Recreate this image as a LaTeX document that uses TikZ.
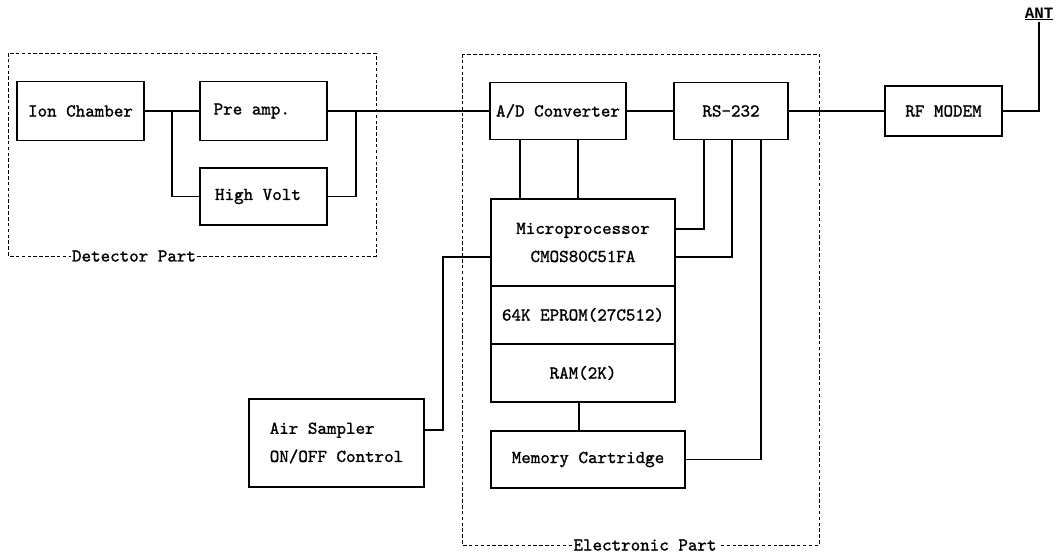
\documentclass[tikz,border=0pt]{standalone}
\usepackage{fontspec}
\newfontfamily\typefont{lmmono10-regular.otf}[FakeBold=1.2]
\newfontfamily\antfont{Liberation Mono}
\usepackage{tikz}
\usetikzlibrary{positioning, calc}
\tikzstyle{wire} = [line width=1.2pt]

\begin{document}
\begin{tikzpicture}[
    x=0.03cm, y=-0.03cm,
    box/.style={draw, rectangle, line width=1.4pt, outer sep=0pt, align=center, font=\typefont\fontsize{15.5}{24}\selectfont},
    part/.style={draw, densely dashed, line width=0.4pt},
    partlabel/.style={fill=white, inner sep=1pt, font=\typefont\fontsize{15.5}{16}\selectfont}
]
\useasboundingbox (0,0) rectangle (1063,557);

% detector part
\draw[part] (8,53) rectangle (376,256);
\node[partlabel] (detlabel) at (134,256) {Detector Part};
\node[box, minimum width=3.81cm, minimum height=1.77cm] (ion) at (80.5,111) {Ion Chamber};
\node[box, minimum width=3.81cm, minimum height=1.77cm] (preamp) at (263.5,111) {Pre amp.\hspace*{0.7cm}};
\node[box, minimum width=3.81cm, minimum height=1.71cm] (hv) at (263.5,196.5) {High Volt\hspace*{0.33cm}};

% electronic part
\draw[part] (462,54) rectangle (819,545);
\node[partlabel] (eleclabel) at (645,545) {Electronic Part};
\node[box, minimum width=4.08cm, minimum height=1.71cm] (adc) at (558,111) {A/D Converter};
\node[box, minimum width=3.42cm, minimum height=1.71cm] (rs) at (731,111) {RS-232};
\node[box, minimum width=5.52cm, minimum height=2.61cm] (micro) at (583,242.5) {Microprocessor\\CMOS80C51FA};
\node[box, minimum width=5.52cm, minimum height=1.74cm, below=0pt of micro] (eprom) {64K EPROM(27C512)};
\node[box, minimum width=5.52cm, minimum height=1.74cm, below=0pt of eprom] (ram) {RAM(2K)};
\node[box, minimum width=5.82cm, minimum height=1.71cm] (mem) at (588,459.5) {Memory Cartridge};

% outside
\node[box, minimum width=5.25cm, minimum height=2.64cm, align=left] (air) at (336.5,443) {Air Sampler\\ON/OFF Control};
\node[box, minimum width=3.51cm, minimum height=1.5cm] (rf) at (943.5,111) {RF MODEM};
\node[inner sep=1pt, font=\antfont\bfseries\fontsize{13.5}{16}\selectfont] (ant) at (1039,14) {\underline{ANT}};

% wiring
\coordinate (split) at (172,111);
\coordinate (merge) at (356,111);
\draw[wire] (ion) -- (preamp);
\draw[wire] (split) |- (hv);
\draw[wire] (preamp) -- (merge) -- (adc);
\draw[wire] (hv) -| (merge);
\draw[wire] (adc) -- (rs);
\draw[wire] (rs) -- (rf);
\draw[wire] (rf) -| (ant);
\foreach \x in {520,578}
    \draw[wire] (adc.south -| \x,0) -- (micro.north -| \x,0);
\draw[wire] (rs.south -| 704,0) |- (micro.east |- 0,229);
\draw[wire] (rs.south -| 732,0) |- (micro.east |- 0,257);
\draw[wire] (rs.south -| 761,0) |- (mem.east);
\draw[wire] (micro.west |- 0,257) -| (443,430) -- (air.east |- 0,430);
\draw[wire] (ram.south -| 579,0) -- (mem.north -| 579,0);
\end{tikzpicture}
\end{document}
